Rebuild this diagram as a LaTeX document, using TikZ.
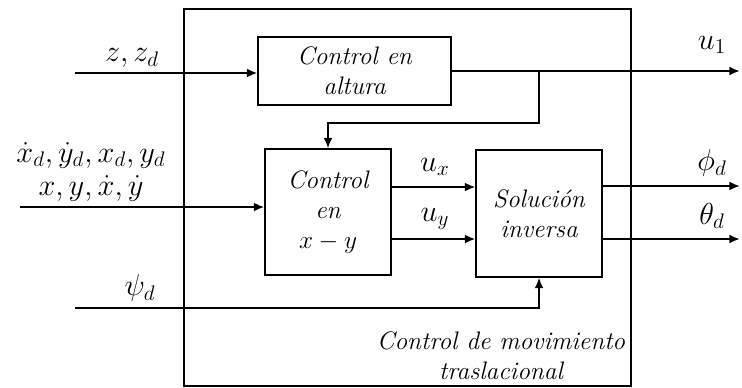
\documentclass[tikz,border=0pt]{standalone}
\usepackage{amsmath}
\usepackage{tikz}
\usetikzlibrary{positioning,arrows.meta}

\begin{document}
\begin{tikzpicture}[
    x = 0.02cm, y = -0.02cm,
    >= {Latex[length=6pt,width=5pt]},
    font = \fontsize{14.4}{17}\selectfont\itshape,
    block/.style={rectangle, draw, line width=0.6pt, align=center},
    signal/.style={line width=1.6pt},
    lbl/.style={inner sep=1pt, align=center, font=\fontsize{17.28}{20}\selectfont}
]
\useasboundingbox (0,0) rectangle (742,387);

% Outer box
\node[draw, line width=1pt, minimum width=8.94cm, minimum height=7.54cm] (outer) at (407.5,197.5) {};
\node[align=center] (caption) at (501,356) {Control de movimiento\\traslacional};

% Blocks
\node[block, minimum width=3.86cm, minimum height=1.36cm] (alt) at (354.5,71) {Control en\\altura};
\node[block, minimum width=2.52cm, minimum height=2.52cm] (xy) at (328,212) {Control\\en\\$x-y$};
\node[block, minimum width=2.52cm, minimum height=2.54cm] (sol) at (539,213.5) {Soluci\'on\\inversa};

% Free ends
\coordinate (zin) at (75,73);
\coordinate (xin) at (20,207);
\coordinate (psiin) at (75,308);
\coordinate (out) at (740,0);
\coordinate (tap) at (539,70);

% Inputs
\draw[signal,->] (zin) -- (zin -| alt.west);
\draw[signal,->] (xin) -- (xin -| xy.west);
\draw[signal,->] (psiin) -| (sol.south);
\node[lbl] (zlbl) at (132,58) {$z, z_d$};
\node[lbl] (xdlbl) at (91,155) {$\dot{x}_d, \dot{y}_d, x_d, y_d$};
\node[lbl] (xlbl) at (91,188) {$x, y, \dot{x}, \dot{y}$};
\node[lbl] (psilbl) at (140,288) {$\psi_d$};

% Outputs
\draw[signal,->] (alt.east) -- (alt.east -| out);
\draw[signal,->] (alt.east -| tap) -- ++(0,52) -| (xy.north);
\draw[signal,->] ([yshift=0.5cm]xy.east) -- ([yshift=0.5cm]xy.east -| sol.west);
\draw[signal,->] ([yshift=-0.54cm]xy.east) -- ([yshift=-0.54cm]xy.east -| sol.west);
\draw[signal,->] ([yshift=0.55cm]sol.east) -- ([yshift=0.55cm]sol.east -| out);
\draw[signal,->] ([yshift=-0.51cm]sol.east) -- ([yshift=-0.51cm]sol.east -| out);
\node[lbl] (u1lbl) at (712,45) {$u_1$};
\node[lbl] (uxlbl) at (435,167) {$u_x$};
\node[lbl] (uylbl) at (435,219) {$u_y$};
\node[lbl] (philbl) at (712,163) {$\phi_d$};
\node[lbl] (thetalbl) at (712,216) {$\theta_d$};

\end{tikzpicture}
\end{document}
